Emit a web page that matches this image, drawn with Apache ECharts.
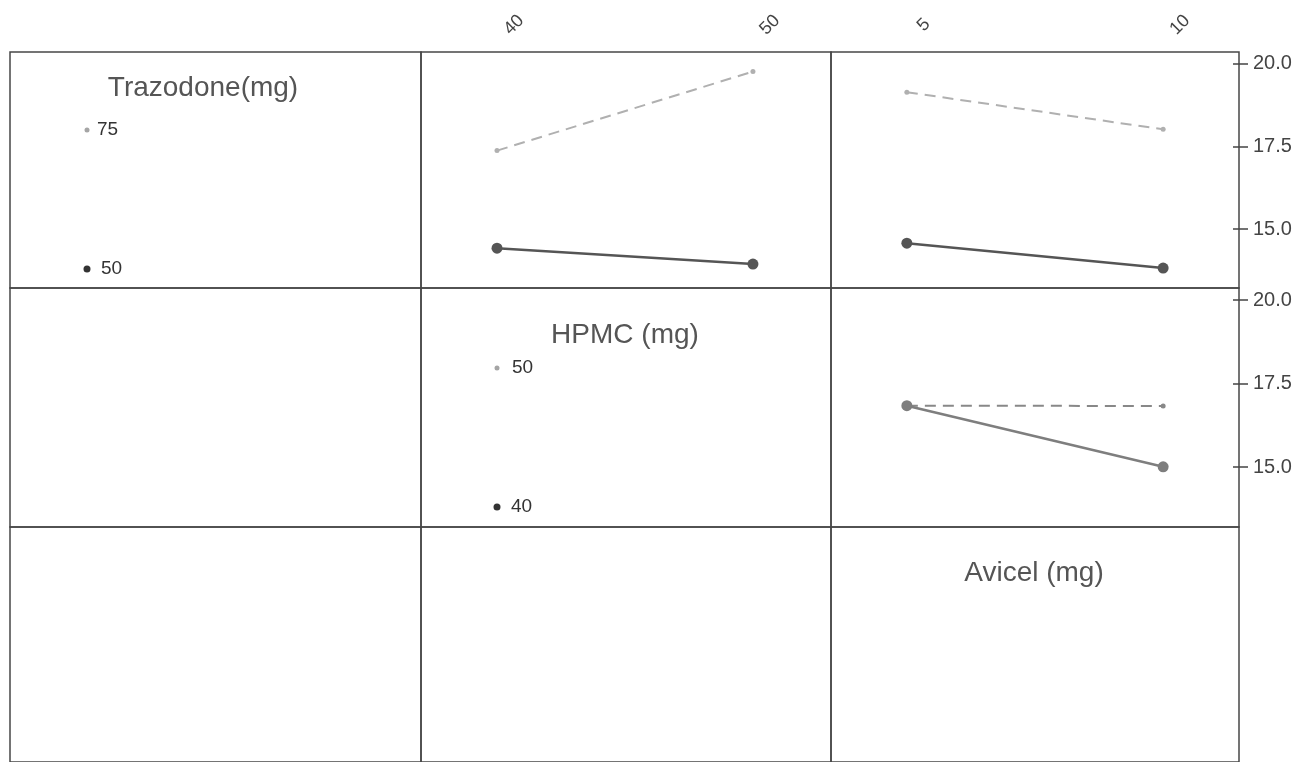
<!DOCTYPE html>
<html>
<head>
<meta charset="utf-8">
<script src="https://cdn.jsdelivr.net/npm/echarts@6/dist/echarts.min.js"></script>
<style>
html,body{margin:0;padding:0;background:#fff;}
#chart{width:1303px;height:762px;}
</style>
</head>
<body>
<div id="chart"></div>
<script>
// ---- data ----
const hpmcLevels = [40, 50];
const avicelLevels = [5, 10];
const trazodoneLegend = ['75', '50'];
const hpmcLegend = ['50', '40'];
const yTicks = [15, 17.5, 20];

const traz75_byHPMC = [17.37, 19.75];
const traz50_byHPMC = [14.43, 13.95];
const traz75_byAvicel = [19.13, 18.01];
const traz50_byAvicel = [14.58, 13.83];
const hpmc50_byAvicel = [16.84, 16.83];
const hpmc40_byAvicel = [16.84, 15.01];

// ---- layout ----
const colLeft = [10, 421, 831];
const colWidth = [411, 410, 408];
const rowTop = [52, 288, 527];
const rowHeight = [236, 239, 237];
const xRange = [null, [37.03, 53.05], [3.52, 11.48]];
const xLevels = [null, hpmcLevels, avicelLevels];
const yRange = [[13.23, 20.34], [13.21, 20.36], [13.2, 20.35]];
const FONT = "'Liberation Sans', Arial, sans-serif";

const grids = [], xAxes = [], yAxes = [];
for (let r = 0; r < 3; r++) {
  for (let c = 0; c < 3; c++) {
    const k = r * 3 + c;
    grids.push({
      left: colLeft[c], top: rowTop[r], width: colWidth[c], height: rowHeight[r],
      show: true, borderColor: '#474747', borderWidth: 1.5, backgroundColor: 'transparent'
    });
    if (c === 0) {
      xAxes.push({ gridIndex: k, type: 'value', min: 0, max: 1, show: false });
    } else {
      xAxes.push({
        gridIndex: k, type: 'value', min: xRange[c][0], max: xRange[c][1],
        position: 'top', show: r === 0,
        axisLine: { show: false }, axisTick: { show: false }, splitLine: { show: false },
        axisLabel: {
          show: r === 0, customValues: xLevels[c], rotate: -45,
          align: 'center', verticalAlign: 'middle', margin: 10, padding: [0, 0, 0, 48],
          fontSize: 18, color: '#444', fontFamily: FONT
        }
      });
    }
    const labeled = (c === 2 && r < 2);
    yAxes.push({
      gridIndex: k, type: 'value', min: yRange[r][0], max: yRange[r][1],
      position: 'right', offset: -6, show: labeled,
      axisLine: { show: false },
      axisTick: { show: labeled, inside: false, length: 15, customValues: yTicks,
        lineStyle: { color: '#444', width: 1.5 } },
      splitLine: { show: false },
      axisLabel: { show: labeled, customValues: yTicks, margin: 20,
        formatter: v => v.toFixed(1), fontSize: 20, color: '#444', fontFamily: FONT }
    });
  }
}

function pts(xs, ys) { return xs.map((x, i) => [x, ys[i]]); }
function dashed(name, k, data, color) {
  return { name, type: 'line', xAxisIndex: k, yAxisIndex: k, data,
    symbol: 'circle', symbolSize: 5, itemStyle: { color },
    lineStyle: { color, width: 2, type: [11, 7] }, silent: true, animation: false, z: 2 };
}
function solid(name, k, data, color) {
  return { name, type: 'line', xAxisIndex: k, yAxisIndex: k, data,
    symbol: 'circle', symbolSize: 11, itemStyle: { color },
    lineStyle: { color, width: 2.5 }, silent: true, animation: false, z: 3 };
}

const series = [
  dashed('Trazodone 75', 1, pts(hpmcLevels, traz75_byHPMC), '#b0b0b0'),
  solid('Trazodone 50', 1, pts(hpmcLevels, traz50_byHPMC), '#555555'),
  dashed('Trazodone 75', 2, pts(avicelLevels, traz75_byAvicel), '#b0b0b0'),
  solid('Trazodone 50', 2, pts(avicelLevels, traz50_byAvicel), '#555555'),
  dashed('HPMC 50', 5, pts(avicelLevels, hpmc50_byAvicel), '#888888'),
  solid('HPMC 40', 5, pts(avicelLevels, hpmc40_byAvicel), '#7e7e7e')
];

function title(text, cx, cy) {
  return { type: 'text', x: cx, y: cy, style: { text, fill: '#555', font: '28px ' + FONT,
    textAlign: 'center', textVerticalAlign: 'middle' } };
}
function key(text, dx, dy, rad, color, tx) {
  return [
    { type: 'circle', shape: { cx: dx, cy: dy, r: rad }, style: { fill: color } },
    { type: 'text', x: tx, y: dy, style: { text, fill: '#333', font: '19px ' + FONT,
      textAlign: 'left', textVerticalAlign: 'middle' } }
  ];
}

const graphic = [
  title('Trazodone(mg)', 203, 88),
  ...key(trazodoneLegend[0], 87, 130, 2.5, '#a5a5a5', 97),
  ...key(trazodoneLegend[1], 87, 269, 3.5, '#333', 101),
  title('HPMC (mg)', 625, 335),
  ...key(hpmcLegend[0], 497, 368, 2.5, '#a5a5a5', 512),
  ...key(hpmcLegend[1], 497, 507, 3.5, '#333', 511),
  title('Avicel (mg)', 1034, 573)
];

const chart = echarts.init(document.getElementById('chart'), null, { renderer: 'canvas' });
chart.setOption({
  backgroundColor: '#ffffff',
  animation: false,
  grid: grids,
  xAxis: xAxes,
  yAxis: yAxes,
  series,
  graphic
});
</script>
</body>
</html>
